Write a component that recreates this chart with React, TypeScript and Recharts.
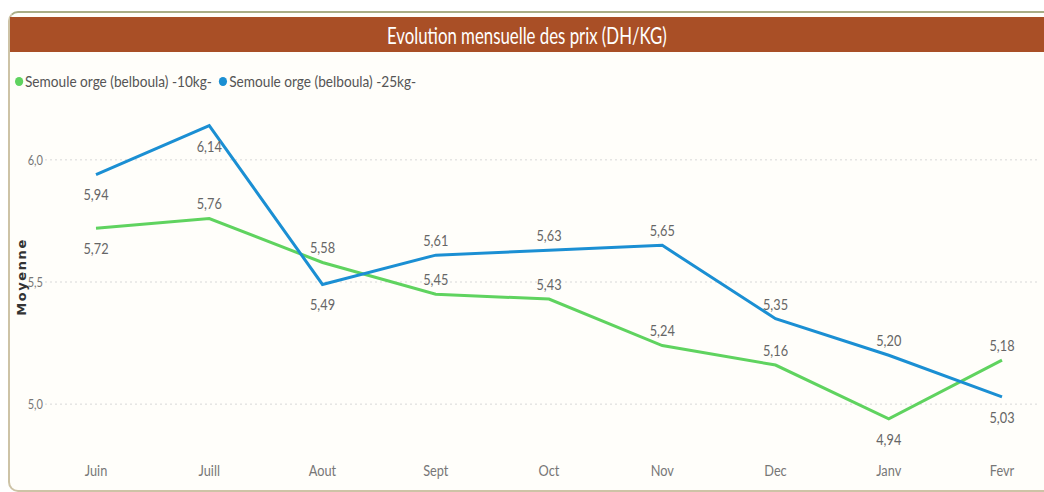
import { CartesianGrid, LabelList, Line, LineChart, XAxis, YAxis } from "recharts";

const months = ["Juin", "Juill", "Aout", "Sept", "Oct", "Nov", "Dec", "Janv", "Fevr"];
const orge10 = [5.72, 5.76, 5.58, 5.45, 5.43, 5.24, 5.16, 4.94, 5.18];
const orge25 = [5.94, 6.14, 5.49, 5.61, 5.63, 5.65, 5.35, 5.2, 5.03];
const yTicks = [5.0, 5.5, 6.0];

// which side of the point each value label sits on
const side10 = ["below", "above", "above", "above", "above", "above", "above", "below", "above"];
const side25 = ["below", "below", "below", "above", "above", "above", "above", "above", "below"];

const GREEN = "#5fd35f";
const BLUE = "#1b8fd3";
const FONT = "Lato, 'Open Sans', sans-serif";
const SQUEEZE = 0.85; // narrow the glyphs a bit, the original uses a condensed face

const data = months.map((m, i) => ({ month: m, a: orge10[i], b: orge25[i] }));

const fmt = (v: number) => v.toFixed(2).replace(".", ",");

function NarrowText({ x, y, anchor = "middle", size, fill, children }: any) {
  return (
    <text
      transform={`translate(${x},${y}) scale(${SQUEEZE},1)`}
      textAnchor={anchor}
      dominantBaseline="central"
      fontSize={size}
      fontFamily={FONT}
      fill={fill}
    >
      {children}
    </text>
  );
}

function makeLabel(sides: string[]) {
  return (props: any) => {
    const { x, y, value, index } = props;
    const below = sides[index] === "below";
    return (
      <NarrowText x={x} y={below ? y + 20 : y - 15} size={15} fill="#666">
        {fmt(Number(value))}
      </NarrowText>
    );
  };
}

function XTick(props: any) {
  const { x, y, payload } = props;
  return (
    <NarrowText x={x} y={y + 9} size={15} fill="#777">
      {payload.value}
    </NarrowText>
  );
}

function YTick(props: any) {
  const { x, y, payload } = props;
  return (
    <NarrowText x={x + 6} y={y} anchor="end" size={13} fill="#777">
      {Number(payload.value).toFixed(1).replace(".", ",")}
    </NarrowText>
  );
}

function LegendRow() {
  const items = [
    { label: "Semoule orge (belboula) -10kg-", color: GREEN },
    { label: "Semoule orge (belboula) -25kg-", color: BLUE },
  ];
  return (
    <div
      style={{
        position: "absolute",
        left: 15,
        top: 72,
        display: "flex",
        gap: 8,
        fontFamily: FONT,
        fontSize: 15,
        color: "#555",
        transform: "scaleX(0.91)",
        transformOrigin: "left center",
        whiteSpace: "nowrap",
      }}
    >
      {items.map((it) => (
        <span key={it.label} style={{ display: "flex", alignItems: "center", gap: 2 }}>
          <span style={{ width: 9, height: 9, borderRadius: 5, background: it.color, display: "inline-block" }} />
          {it.label}
        </span>
      ))}
    </div>
  );
}

export default function App() {
  return (
    <div style={{ position: "fixed", left: 0, top: 0, width: 1044, height: 492, background: "#fff", overflow: "hidden" }}>
      <div
        style={{
          position: "absolute",
          left: 8,
          top: 11,
          width: 1060,
          height: 477,
          border: "2px solid #cdc3a6",
          borderTopColor: "#a9ad86",
          borderRadius: 10,
          background: "#fffefa",
        }}
      />
      <div
        style={{
          position: "absolute",
          left: 10,
          top: 17,
          width: 1034,
          height: 35,
          background: "#a94f26",
          display: "flex",
          justifyContent: "center",
          alignItems: "center",
        }}
      >
        <span style={{ color: "#fff", fontFamily: FONT, fontSize: 24, transform: "scaleX(0.7)", whiteSpace: "nowrap" }}>
          Evolution mensuelle des prix (DH/KG)
        </span>
      </div>
      <LegendRow />
      <div style={{ position: "absolute", left: 0, top: 0 }}>
        <LineChart width={1044} height={492} data={data} margin={{ top: 111, right: 4, bottom: 9, left: 0 }}>
          <CartesianGrid vertical={false} horizontalValues={yTicks} stroke="#d8d8d8" strokeDasharray="2 3" />
          <XAxis
            dataKey="month"
            axisLine={false}
            tickLine={false}
            padding={{ left: 51, right: 38 }}
            height={30}
            tick={<XTick />}
          />
          <YAxis
            type="number"
            domain={[4.8, 6.2]}
            ticks={yTicks}
            width={45}
            axisLine={false}
            tickLine={false}
            tick={<YTick />}
            label={{
              content: (p: any) => {
                const vb = p.viewBox;
                const cy = vb.y + vb.height / 2 - 5;
                return (
                  <text
                    x={21}
                    y={cy}
                    transform={`rotate(-90 21 ${cy})`}
                    textAnchor="middle"
                    dominantBaseline="central"
                    fontSize={13}
                    fontWeight="bold"
                    letterSpacing={1.6}
                    fontFamily="'DejaVu Sans', sans-serif"
                    fill="#333"
                  >
                    Moyenne
                  </text>
                );
              },
            }}
          />
          <Line dataKey="a" stroke={GREEN} strokeWidth={3} dot={false} activeDot={false} isAnimationActive={false}>
            <LabelList dataKey="a" content={makeLabel(side10)} />
          </Line>
          <Line dataKey="b" stroke={BLUE} strokeWidth={3} dot={false} activeDot={false} isAnimationActive={false}>
            <LabelList dataKey="b" content={makeLabel(side25)} />
          </Line>
        </LineChart>
      </div>
    </div>
  );
}
